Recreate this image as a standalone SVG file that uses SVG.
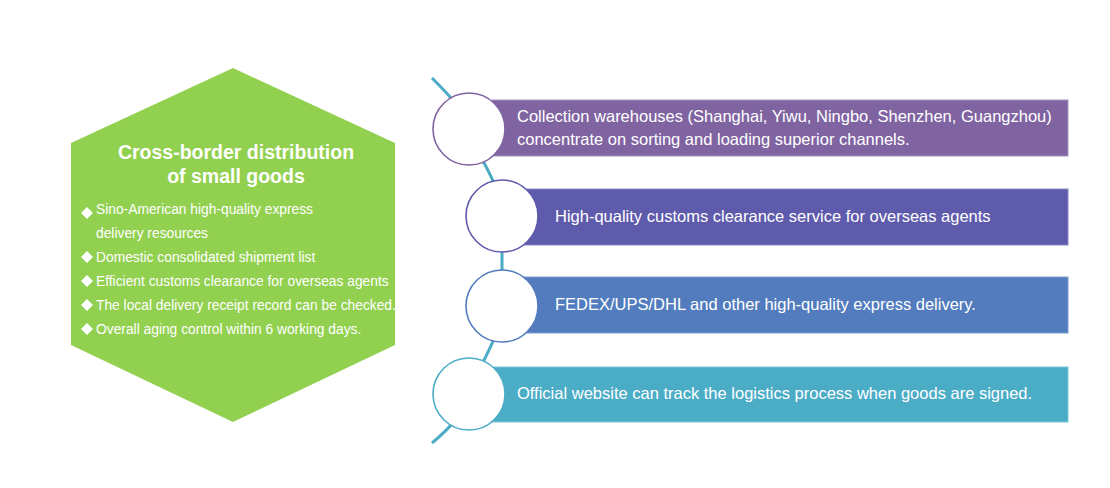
<svg xmlns="http://www.w3.org/2000/svg" width="1110" height="488" viewBox="0 0 1110 488">
<style>
.t{font-family:"Liberation Sans",Arial,sans-serif;fill:#fff}
.title{font-size:19.5px;font-weight:bold}
.b{font-size:13.8px}
.r{font-size:16.5px}
.c{fill:#fff;stroke-width:1.6}
</style>
<defs>
<path id="dia" d="M0,-6 L6,0 L0,6 L-6,0 Z" fill="#fff"/>
</defs>
<rect width="1110" height="488" fill="#fff"/>
<g id="hexagon">
<polygon points="233,68 395,143 395,345 233,422 71,345 71,143" fill="#92D050"/>
<text class="t title" x="236" y="159" text-anchor="middle">Cross-border distribution</text>
<text class="t title" x="236" y="183" text-anchor="middle">of small goods</text>
<use href="#dia" x="87" y="213"/>
<text class="t b" x="96" y="214">Sino-American high-quality express</text>
<text class="t b" x="96" y="238">delivery resources</text>
<use href="#dia" x="87" y="257"/>
<text class="t b" x="96" y="262">Domestic consolidated shipment list</text>
<use href="#dia" x="87" y="281"/>
<text class="t b" x="96" y="286">Efficient customs clearance for overseas agents</text>
<use href="#dia" x="87" y="305"/>
<text class="t b" x="96" y="310">The local delivery receipt record can be checked.</text>
<use href="#dia" x="87" y="329"/>
<text class="t b" x="96" y="334">Overall aging control within 6 working days.</text>
</g>
<g id="connectors">
<path d="M432,78 C450,96 462,108 469,129 C478,160 500,180 502,216 L502,306 C500,340 478,365 469,394 C462,415 450,428 432,443" fill="none" stroke="#4BACC6" stroke-width="3"/>
</g>
<g id="step1">
<rect x="492" y="100" width="576" height="56" fill="#8064A2" stroke="#A795C4" stroke-width="1"/>
<circle class="c" cx="469" cy="129" r="36" stroke="#8064A2"/>
<text class="t r" x="517" y="122">Collection warehouses (Shanghai, Yiwu, Ningbo, Shenzhen, Guangzhou)</text>
<text class="t r" x="517" y="145">concentrate on sorting and loading superior channels.</text>
</g>
<g id="step2">
<rect x="520" y="189" width="548" height="56" fill="#5E5AAC" stroke="#8A87C6" stroke-width="1"/>
<circle class="c" cx="502" cy="216" r="36" stroke="#5E5AAC"/>
<text class="t r" x="555" y="222">High-quality customs clearance service for overseas agents</text>
</g>
<g id="step3">
<rect x="520" y="277" width="548" height="56" fill="#527CBD" stroke="#7E9ED3" stroke-width="1"/>
<circle class="c" cx="502" cy="306" r="36" stroke="#527CBD"/>
<text class="t r" x="555" y="310">FEDEX/UPS/DHL and other high-quality express delivery.</text>
</g>
<g id="step4">
<rect x="492" y="367" width="576" height="55" fill="#4BACC6" stroke="#7DC5D8" stroke-width="1"/>
<circle class="c" cx="469" cy="394" r="36" stroke="#4BACC6"/>
<text class="t r" x="517" y="399">Official website can track the logistics process when goods are signed.</text>
</g>
</svg>
